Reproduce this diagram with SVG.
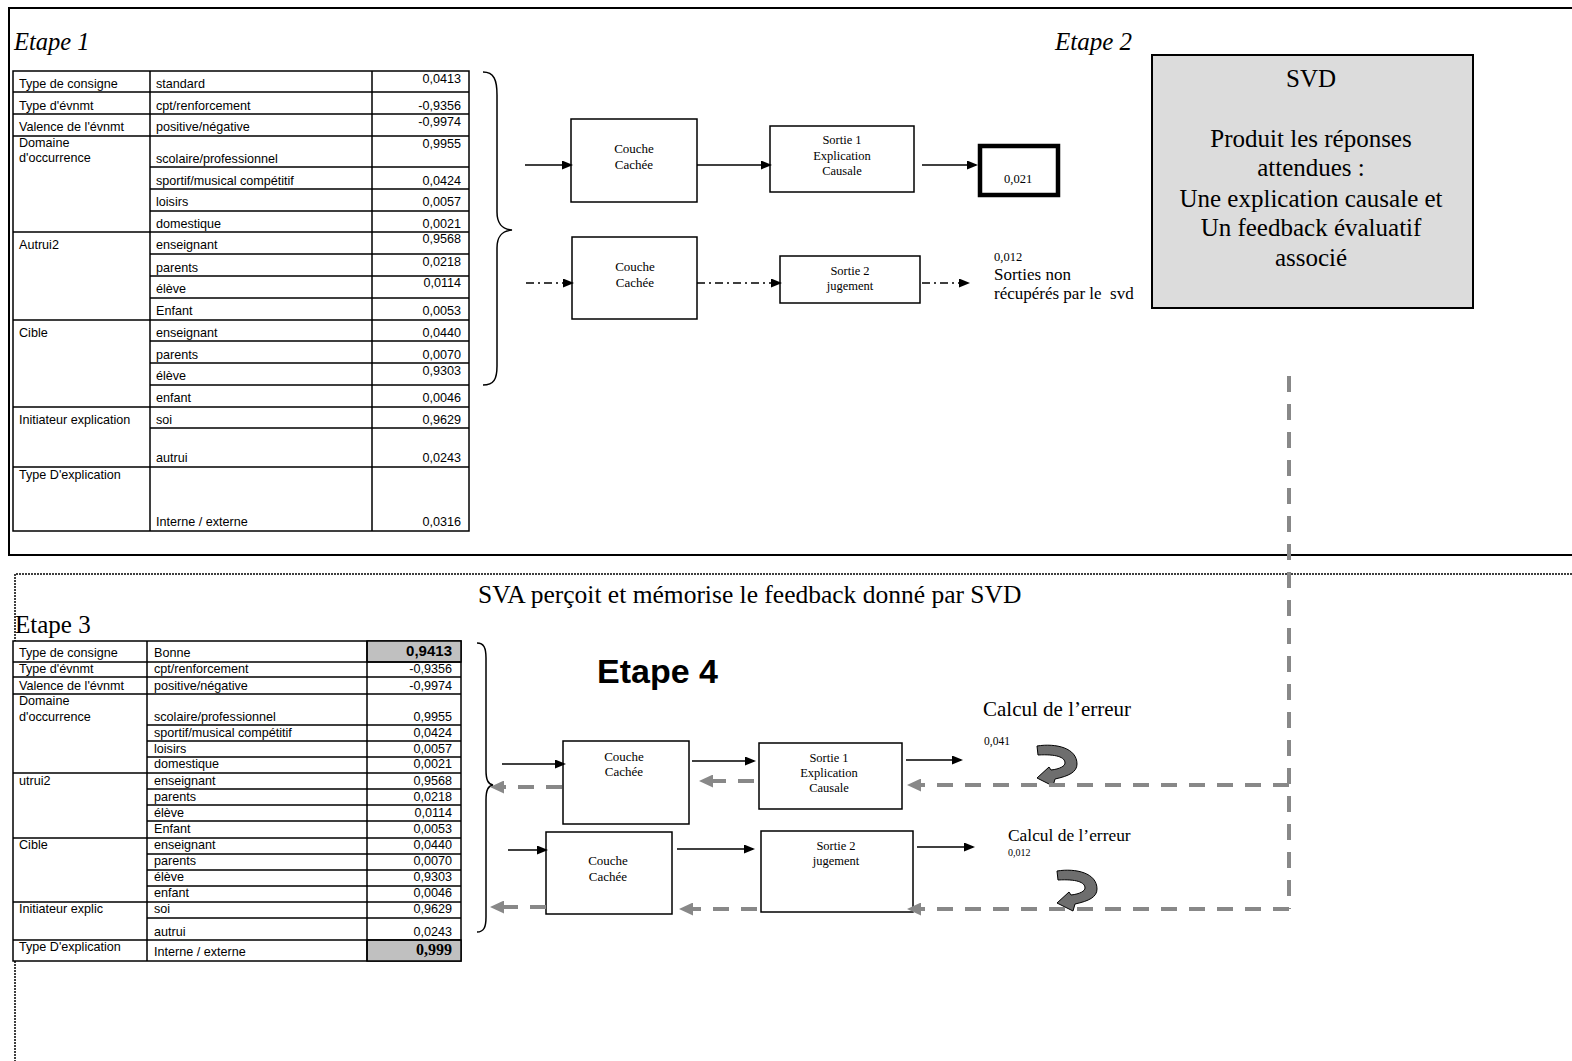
<svg xmlns="http://www.w3.org/2000/svg" width="1572" height="1061" viewBox="0 0 1572 1061">
<style>
.t{font-family:"Liberation Sans",Arial,sans-serif;font-size:12.6px;fill:#000}
.r{text-anchor:end}
.s{font-family:"Liberation Serif","Times New Roman",serif;fill:#000}
.c{text-anchor:middle}
.bx{fill:#fff;stroke:#000;stroke-width:1.5}
.ln{stroke:#000;stroke-width:1.5}
.cn{stroke:#000;stroke-width:1.5;fill:none}
.dd{stroke-dasharray:8 4 2 4}
.gd{stroke:#888;stroke-width:4;stroke-dasharray:16 12;fill:none}
.br{fill:none;stroke:#000;stroke-width:1.5}
.ua{fill:#6e6e6e;stroke:#000;stroke-width:1}
</style>
<defs>
<marker id="ah" markerWidth="11" markerHeight="9" refX="9" refY="4.5" orient="auto" markerUnits="userSpaceOnUse"><path d="M0,0 L11,4.5 L0,9 Z" fill="#000"/></marker>
<marker id="ag" markerWidth="14" markerHeight="13" refX="3" refY="6.5" orient="auto" markerUnits="userSpaceOnUse"><path d="M0,0 L14,6.5 L0,13 Z" fill="#888"/></marker>
</defs>
<rect width="1572" height="1061" fill="#fff"/>

<!-- frames -->
<g id="frames">
<path d="M1572,8 L9,8 L9,555 L1572,555" fill="none" stroke="#000" stroke-width="2"/>
<path d="M1572,574 L15,574 L15,1061" fill="none" stroke="#000" stroke-width="1.5" stroke-dasharray="2 1"/>
</g>

<text class="s" x="14" y="50" font-size="24.5" font-style="italic">Etape 1</text>
<text class="s" x="1055" y="50" font-size="25" font-style="italic">Etape 2</text>

<!-- Table 1 -->
<g id="table1">
<rect x="13" y="71" width="456" height="460" fill="#fff" stroke="#000" stroke-width="1.5"/>
<path class="ln" d="M150,71V531M372,71V531M13,92H469M13,114H469M13,136H469M13,232H469M13,320H469M13,407H469M13,467H469M150,167H469M150,189H469M150,211H469M150,254H469M150,276H469M150,298H469M150,341H469M150,363H469M150,385H469M150,428H469"/>
<g class="t">
<text x="19" y="88">Type de consigne</text><text x="156" y="88">standard</text><text class="r" x="461" y="83">0,0413</text>
<text x="19" y="110">Type d'évnmt</text><text x="156" y="110">cpt/renforcement</text><text class="r" x="461" y="110">-0,9356</text>
<text x="19" y="131">Valence de l'évnmt</text><text x="156" y="131">positive/négative</text><text class="r" x="461" y="126">-0,9974</text>
<text x="19" y="147">Domaine</text><text x="19" y="162">d'occurrence</text><text x="156" y="163">scolaire/professionnel</text><text class="r" x="461" y="148">0,9955</text>
<text x="156" y="185">sportif/musical compétitif</text><text class="r" x="461" y="185">0,0424</text>
<text x="156" y="206">loisirs</text><text class="r" x="461" y="206">0,0057</text>
<text x="156" y="228">domestique</text><text class="r" x="461" y="228">0,0021</text>
<text x="19" y="249">Autrui2</text><text x="156" y="249">enseignant</text><text class="r" x="461" y="243">0,9568</text>
<text x="156" y="272">parents</text><text class="r" x="461" y="266">0,0218</text>
<text x="156" y="293">élève</text><text class="r" x="461" y="287">0,0114</text>
<text x="156" y="315">Enfant</text><text class="r" x="461" y="315">0,0053</text>
<text x="19" y="337">Cible</text><text x="156" y="337">enseignant</text><text class="r" x="461" y="337">0,0440</text>
<text x="156" y="359">parents</text><text class="r" x="461" y="359">0,0070</text>
<text x="156" y="380">élève</text><text class="r" x="461" y="375">0,9303</text>
<text x="156" y="402">enfant</text><text class="r" x="461" y="402">0,0046</text>
<text x="19" y="424">Initiateur explication</text><text x="156" y="424">soi</text><text class="r" x="461" y="424">0,9629</text>
<text x="156" y="462">autrui</text><text class="r" x="461" y="462">0,0243</text>
<text x="19" y="479">Type D'explication</text><text x="156" y="526">Interne / externe</text><text class="r" x="461" y="526">0,0316</text>
</g>
</g>

<path id="brace1" class="br" d="M483,72 C494,72 497,80 497,95 L497,212 C497,224 502,229 512,230 C502,231 497,236 497,248 L497,366 C497,379 494,385 483,385"/>

<!-- Etape 2 nodes -->
<g id="couche1"><rect class="bx" x="571" y="119" width="126" height="83"/><text class="s c" x="634" y="153" font-size="13">Couche</text><text class="s c" x="634" y="169" font-size="13">Cachée</text></g>
<g id="sortie1"><rect class="bx" x="770" y="126" width="144" height="66"/><text class="s c" x="842" y="144" font-size="12.5">Sortie 1</text><text class="s c" x="842" y="160" font-size="12.5">Explication</text><text class="s c" x="842" y="175" font-size="12.5">Causale</text></g>
<g id="val021"><rect x="980" y="146" width="78" height="49" fill="#fff" stroke="#000" stroke-width="4.5"/><text class="s" x="1004" y="183" font-size="12.5">0,021</text></g>
<g id="couche2"><rect class="bx" x="572" y="237" width="125" height="82"/><text class="s c" x="635" y="271" font-size="13">Couche</text><text class="s c" x="635" y="287" font-size="13">Cachée</text></g>
<g id="sortie2"><rect class="bx" x="780" y="256" width="140" height="47"/><text class="s c" x="850" y="275" font-size="12.5">Sortie 2</text><text class="s c" x="850" y="290" font-size="12.5">jugement</text></g>
<g id="nonrecup"><text class="s" x="994" y="261" font-size="12.5">0,012</text><text class="s" x="994" y="280" font-size="17">Sorties non</text><text class="s" x="994" y="299" font-size="17">récupérés par le &#160;svd</text></g>

<g id="svd"><rect x="1152" y="55" width="321" height="253" fill="#dcdcdc" stroke="#000" stroke-width="2"/>
<g class="s c" font-size="25"><text x="1311" y="87">SVD</text><text x="1311" y="147">Produit les réponses</text><text x="1311" y="176">attendues :</text><text x="1311" y="207">Une explication causale et</text><text x="1311" y="236">Un feedback évaluatif</text><text x="1311" y="266">associé</text></g></g>

<text class="s" x="478" y="603" font-size="25.5">SVA perçoit et mémorise le feedback donné par SVD</text>
<text class="s" x="15" y="633" font-size="25">Etape 3</text>

<!-- Table 2 -->
<g id="table2">
<rect x="13" y="641" width="448" height="320" fill="#fff" stroke="#000" stroke-width="1.5"/>
<rect x="367" y="641" width="94" height="21" fill="#c0c0c0" stroke="#000" stroke-width="1.5"/>
<rect x="367" y="940" width="94" height="21" fill="#c0c0c0" stroke="#000" stroke-width="1.5"/>
<path class="ln" d="M147,641V961M367,641V961M13,662H461M13,677H461M13,694H461M13,773H461M13,838H461M13,902H461M13,940H461M147,725H461M147,741H461M147,757H461M147,789H461M147,805H461M147,821H461M147,854H461M147,870H461M147,886H461M147,918H461"/>
<g class="t">
<text x="19" y="657">Type de consigne</text><text x="154" y="657">Bonne</text><text class="r" x="452" y="656" font-weight="bold" font-size="15">0,9413</text>
<text x="19" y="673">Type d'évnmt</text><text x="154" y="673">cpt/renforcement</text><text class="r" x="452" y="673">-0,9356</text>
<text x="19" y="690">Valence de l'évnmt</text><text x="154" y="690">positive/négative</text><text class="r" x="452" y="690">-0,9974</text>
<text x="19" y="705">Domaine</text><text x="19" y="721">d'occurrence</text><text x="154" y="721">scolaire/professionnel</text><text class="r" x="452" y="721">0,9955</text>
<text x="154" y="737">sportif/musical compétitif</text><text class="r" x="452" y="737">0,0424</text>
<text x="154" y="753">loisirs</text><text class="r" x="452" y="753">0,0057</text>
<text x="154" y="768">domestique</text><text class="r" x="452" y="768">0,0021</text>
<text x="19" y="785">utrui2</text><text x="154" y="785">enseignant</text><text class="r" x="452" y="785">0,9568</text>
<text x="154" y="801">parents</text><text class="r" x="452" y="801">0,0218</text>
<text x="154" y="817">élève</text><text class="r" x="452" y="817">0,0114</text>
<text x="154" y="833">Enfant</text><text class="r" x="452" y="833">0,0053</text>
<text x="19" y="849">Cible</text><text x="154" y="849">enseignant</text><text class="r" x="452" y="849">0,0440</text>
<text x="154" y="865">parents</text><text class="r" x="452" y="865">0,0070</text>
<text x="154" y="881">élève</text><text class="r" x="452" y="881">0,9303</text>
<text x="154" y="897">enfant</text><text class="r" x="452" y="897">0,0046</text>
<text x="19" y="913">Initiateur explic</text><text x="154" y="913">soi</text><text class="r" x="452" y="913">0,9629</text>
<text x="154" y="936">autrui</text><text class="r" x="452" y="936">0,0243</text>
<text x="19" y="951">Type D'explication</text><text x="154" y="956">Interne / externe</text>
</g>
<text class="s r" x="452" y="955" font-size="16" font-weight="bold">0,999</text>
</g>

<path id="brace2" class="br" d="M477,643 C484,643 486,648 486,658 L486,770 C486,780 488,784 493,785 C488,786 486,790 486,800 L486,917 C486,927 484,932 477,932"/>

<text x="597" y="683" font-family="Liberation Sans,Arial,sans-serif" font-weight="bold" font-size="34">Etape 4</text>

<!-- Etape 4 nodes -->
<g id="couche3"><rect class="bx" x="563" y="741" width="126" height="83"/><text class="s c" x="624" y="761" font-size="13">Couche</text><text class="s c" x="624" y="776" font-size="13">Cachée</text></g>
<g id="sortie3"><rect class="bx" x="759" y="743" width="143" height="66"/><text class="s c" x="829" y="762" font-size="12.5">Sortie 1</text><text class="s c" x="829" y="777" font-size="12.5">Explication</text><text class="s c" x="829" y="792" font-size="12.5">Causale</text></g>
<g id="couche4"><rect class="bx" x="546" y="832" width="126" height="82"/><text class="s c" x="608" y="865" font-size="13">Couche</text><text class="s c" x="608" y="881" font-size="13">Cachée</text></g>
<g id="sortie4"><rect class="bx" x="761" y="831" width="152" height="81"/><text class="s c" x="836" y="850" font-size="12.5">Sortie 2</text><text class="s c" x="836" y="865" font-size="12.5">jugement</text></g>
<g id="err1"><text class="s" x="983" y="716" font-size="21">Calcul de l’erreur</text><text class="s" x="984" y="745" font-size="11.5">0,041</text>
<path class="ua" transform="translate(1036,744)" d="M1,2 C20,-1 41,4 41,20 C41,28 33,32 19,35 L17,42 L1,34 L13,23 L15,26 C24,25 29,22 29,19 C29,13 20,10 2,11 Z"/></g>
<g id="err2"><text class="s" x="1008" y="841" font-size="17.4">Calcul de l’erreur</text><text class="s" x="1008" y="856" font-size="10">0,012</text>
<path class="ua" transform="translate(1056,869)" d="M1,2 C20,-1 41,4 41,20 C41,28 33,32 19,35 L17,42 L1,34 L13,23 L15,26 C24,25 29,22 29,19 C29,13 20,10 2,11 Z"/></g>

<!-- connectors -->
<g id="connectors">
<path class="cn" d="M525,165H571" marker-end="url(#ah)"/>
<path class="cn" d="M697,165H770" marker-end="url(#ah)"/>
<path class="cn" d="M922,165H976" marker-end="url(#ah)"/>
<path class="cn dd" d="M526,283H572" marker-end="url(#ah)"/>
<path class="cn dd" d="M697,283H780" marker-end="url(#ah)"/>
<path class="cn dd" d="M922,283H968" marker-end="url(#ah)"/>

<path class="cn" d="M502,764H564" marker-end="url(#ah)"/>
<path class="cn" d="M692,761H754" marker-end="url(#ah)"/>
<path class="cn" d="M906,760H961" marker-end="url(#ah)"/>
<path class="cn" d="M508,850H546" marker-end="url(#ah)"/>
<path class="cn" d="M677,849H753" marker-end="url(#ah)"/>
<path class="cn" d="M917,847H973" marker-end="url(#ah)"/>

<path class="gd" d="M1289,376V909"/>
<path class="gd" d="M1289,785H918" marker-end="url(#ag)"/>
<path class="gd" d="M1289,909H918" marker-end="url(#ag)"/>
<path class="gd" d="M754,781H710" marker-end="url(#ag)"/>
<path class="gd" d="M562,787H501" marker-end="url(#ag)"/>
<path class="gd" d="M757,909H690" marker-end="url(#ag)"/>
<path class="gd" d="M546,907H501" marker-end="url(#ag)"/>
</g>
</svg>
